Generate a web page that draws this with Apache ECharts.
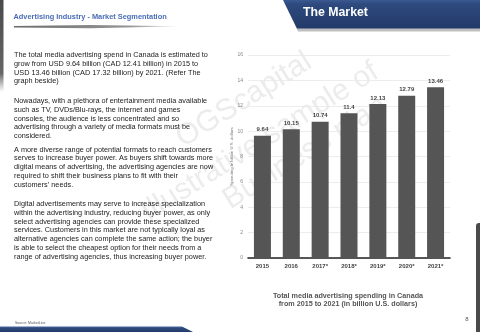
<!DOCTYPE html>
<html><head><meta charset="utf-8">
<script src="https://cdn.jsdelivr.net/npm/echarts@6/dist/echarts.min.js"></script>
<style>html,body{margin:0;padding:0;background:#fff}#c{width:480px;height:332px}</style>
</head><body><div id="c"></div>
<script>
const categories = ['2015','2016','2017*','2018*','2019*','2020*','2021*'];
const spending = [9.64, 10.15, 10.74, 11.4, 12.13, 12.79, 13.46];
const yTicks = {min: 0, max: 16, interval: 2};
const pageTitle = 'Advertising Industry - Market Segmentation';
const bannerText = 'The Market';
const yAxisName = 'Spending in billion U.S. dollars';
const captionLines = ['Total media advertising spending in Canada', 'from 2015 to 2021 (in billion U.S. dollars)'];
const paragraphs = [
  'The total media advertising spend in Canada is estimated to\ngrow from USD 9.64 billion (CAD 12.41 billion) in 2015 to\nUSD 13.46 billion (CAD 17.32 billion) by 2021. (Refer The\ngraph beside)',
  'Nowadays, with a plethora of entertainment media available\nsuch as TV, DVDs/Blu-rays, the internet and games\nconsoles, the audience is less concentrated and so\nadvertising through a variety of media formats must be\nconsidered.',
  'A more diverse range of potential formats to reach customers\nserves to increase buyer power. As buyers shift towards more\ndigital means of advertising, the advertising agencies are now\nrequired to shift their business plans to fit with their\ncustomers\u2019 needs.',
  'Digital advertisements may serve to increase specialization\nwithin the advertising industry, reducing buyer power, as only\nselect advertising agencies can provide these specialized\nservices. Customers in this market are not typically loyal as\nalternative agencies can complete the same action; the buyer\nis able to select the cheapest option for their needs from a\nrange of advertising agencies, thus increasing buyer power.'
];
const paraTops = [55, 101, 149.5, 204];
const watermark = ['OGScapital', 'Illustrative sample of', 'Business plan'];
const sourceText = 'Source: MarketLine';
const pageNumber = '8';

const chart = echarts.init(document.getElementById('c'), null, {renderer: 'canvas'});
const LH = 8.75;
const FONT = '"Liberation Sans", Arial, sans-serif';
const graphics = [];

// watermark
const wm = [
  {x: 244, y: 100},
  {x: 260, y: 142},
  {x: 305, y: 153}
];
watermark.forEach((t, i) => {
  graphics.push({type: 'text', x: wm[i].x, y: wm[i].y, rotation: 32 * Math.PI / 180, z: -10,
    style: {text: t, font: '30px ' + FONT, fill: 'rgba(120,120,120,0.14)', align: 'center', verticalAlign: 'middle'}});
});

// left strip
graphics.push({type: 'rect', shape: {x: 0, y: 0, width: 3.5, height: 92},
  style: {fill: new echarts.graphic.LinearGradient(0, 0, 0, 1, [{offset: 0, color: '#4a4a4a'}, {offset: 0.8, color: '#666'}, {offset: 1, color: 'rgba(120,120,120,0)'}])}});
// right strip
graphics.push({type: 'rect', shape: {x: 476, y: 223, width: 4, height: 109, r: [3, 0, 0, 0]},
  style: {fill: '#4a4a4a'}});
// banner
graphics.push({type: 'polygon', shape: {points: [[283, 0], [480, 0], [480, 30], [297, 30]]},
  style: {fill: 'rgba(0,0,0,0.25)'}, x: 1, y: 1.5});
graphics.push({type: 'polygon', shape: {points: [[283, 0], [480, 0], [480, 28.5], [297, 28.5]]},
  style: {fill: new echarts.graphic.LinearGradient(0, 0, 0, 1, [{offset: 0, color: '#3a5a92'}, {offset: 0.15, color: '#2e4a7e'}, {offset: 1, color: '#223a68'}])}});
graphics.push({type: 'text', x: 303, y: 13, style: {text: bannerText, font: 'bold 12.3px ' + FONT, fill: '#fff', verticalAlign: 'middle'}});
// title
graphics.push({type: 'text', x: 13.5, y: 17, style: {text: pageTitle, font: 'bold 7.4px ' + FONT, fill: '#4a6db5', verticalAlign: 'middle'}});
graphics.push({type: 'polygon', shape: {points: [[14, 26], [90, 25], [182, 26.3], [90, 28.3], [14, 27.5]]},
  style: {fill: new echarts.graphic.LinearGradient(0, 0, 1, 0, [{offset: 0, color: 'rgba(60,60,60,0.75)'}, {offset: 0.7, color: 'rgba(80,80,80,0.6)'}, {offset: 1, color: 'rgba(120,120,120,0.1)'}])}});
// body paragraphs
paragraphs.forEach((p, i) => {
  graphics.push({type: 'text', x: 14, y: paraTops[i] - LH / 2,
    style: {text: p, font: '7.3px ' + FONT, fill: '#222', lineHeight: LH, verticalAlign: 'top'}});
});
// caption
graphics.push({type: 'text', x: 348, y: 296 - 4.25,
  style: {text: captionLines.join('\n'), font: 'bold 7.2px ' + FONT, fill: '#555', lineHeight: 8.5, align: 'center', verticalAlign: 'top'}});
// page number
graphics.push({type: 'text', x: 467, y: 319, style: {text: pageNumber, font: '6px ' + FONT, fill: '#555', align: 'center', verticalAlign: 'middle'}});
// source
graphics.push({type: 'text', x: 15, y: 323.5, style: {text: sourceText, font: '3.5px ' + FONT, fill: '#555', verticalAlign: 'middle'}});
// bottom bar
graphics.push({type: 'polygon', shape: {points: [[0, 326.5], [182, 326.5], [193, 332], [0, 332]]},
  style: {fill: new echarts.graphic.LinearGradient(0, 0, 0, 1, [{offset: 0, color: '#4a6a9e'}, {offset: 0.3, color: '#2e4a7e'}, {offset: 1, color: '#223a68'}])}});

chart.setOption({
  backgroundColor: '#fff',
  animation: false,
  grid: {left: 248, right: 30, top: 55, bottom: 74},
  xAxis: {
    type: 'category', data: categories,
    axisLine: {lineStyle: {color: '#222', width: 1.6}},
    axisTick: {show: false},
    axisLabel: {fontSize: 6, fontWeight: 'bold', color: '#444', margin: 5, fontFamily: FONT}
  },
  yAxis: {
    type: 'value', min: yTicks.min, max: yTicks.max, interval: yTicks.interval,
    name: yAxisName, nameLocation: 'middle', nameGap: 14, nameRotate: 90,
    nameTextStyle: {fontSize: 4.3, color: '#777', fontFamily: FONT},
    axisLine: {show: false}, axisTick: {show: false},
    axisLabel: {fontSize: 5, color: '#888', margin: 5, fontFamily: FONT},
    splitLine: {lineStyle: {color: '#e8e8e8', width: 0.8}}
  },
  series: [{
    type: 'bar', data: spending, barWidth: 17,
    itemStyle: {color: '#555'},
    label: {show: true, position: 'top', distance: 3, fontSize: 6, fontWeight: 'bold', color: '#444', fontFamily: FONT}
  }],
  graphic: graphics
});
</script></body></html>
